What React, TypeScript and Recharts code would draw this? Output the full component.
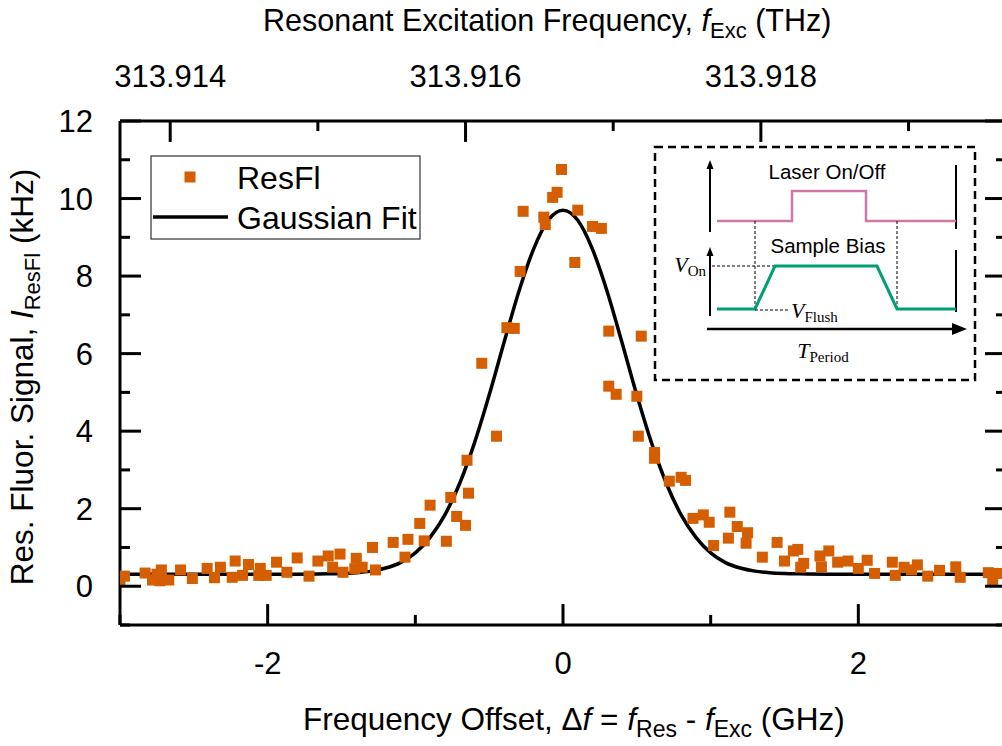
import React from 'react';
import { ComposedChart, Scatter, Line, XAxis, YAxis, ReferenceLine } from 'recharts';

// measured resonance fluorescence (offset in GHz, signal in kHz)
const resX = [
  -3.0, -2.97, -2.83, -2.78, -2.75, -2.72, -2.73, -2.67, -2.59, -2.51, -2.41, -2.36, -2.32, -2.22, -2.24,
  -2.17, -2.13, -2.05, -2.06, -2.01, -1.94, -1.87, -1.8, -1.72, -1.66, -1.59, -1.56, -1.51, -1.49, -1.4,
  -1.41, -1.36, -1.29, -1.27, -1.15, -1.05, -1.07, -0.94, -0.97, -0.9, -0.79, -0.76, -0.72, -0.66, -0.64,
  -0.65, -0.45, -0.55, -0.38, -0.33, -0.29, -0.27, -0.13, -0.12, -0.07, -0.04, -0.01, 0.1, 0.08, 0.2,
  0.26, 0.31, 0.53, 0.31, 0.36, 0.5, 0.51, 0.62, 0.62, 0.72, 0.8, 0.83, 0.88, 0.95, 0.99,
  1.02, 1.12, 1.13, 1.18, 1.25, 1.24, 1.35, 1.45, 1.5, 1.56, 1.59, 1.61, 1.63, 1.74, 1.8,
  1.75, 1.86, 1.93, 2.0, 2.06, 2.11, 2.23, 2.25, 2.31, 2.36, 2.4, 2.47, 2.55, 2.66, 2.69,
  2.88, 2.91, 2.94,
];
const resY = [
  0.13, 0.26, 0.34, 0.16, 0.31, 0.42, 0.14, 0.16, 0.42, 0.2, 0.46, 0.22, 0.49, 0.65, 0.23,
  0.28, 0.56, 0.46, 0.28, 0.28, 0.62, 0.36, 0.73, 0.26, 0.65, 0.78, 0.49, 0.83, 0.36, 0.72,
  0.45, 0.49, 1.0, 0.42, 1.13, 1.21, 0.75, 1.17, 1.62, 2.09, 1.16, 2.29, 1.8, 1.57, 2.4,
  3.25, 3.87, 5.75, 6.67, 6.65, 8.12, 9.67, 9.52, 9.33, 10.03, 10.16, 10.75, 9.7, 8.35, 9.28,
  9.23, 6.58, 6.45, 5.16, 4.95, 4.9, 3.87, 3.45, 3.3, 2.71, 2.81, 2.73, 1.75, 1.84, 1.65,
  1.05, 1.24, 1.91, 1.54, 1.38, 1.11, 0.75, 1.13, 0.65, 0.91, 0.95, 0.49, 0.59, 0.78, 0.91,
  0.5, 0.62, 0.65, 0.46, 0.67, 0.33, 0.62, 0.28, 0.49, 0.42, 0.55, 0.26, 0.41, 0.5, 0.23,
  0.35, 0.14, 0.33,
];

// gaussian fit curve
const fitX = [
  -3, -2.5, -2, -1.8, -1.6, -1.5, -1.4, -1.3, -1.2, -1.1, -1.0, -0.9, -0.8, -0.7, -0.6, -0.5, -0.4, -0.3, -0.2, -0.1,
  0, 0.1, 0.2, 0.3, 0.4, 0.5, 0.6, 0.7, 0.8, 0.9, 1.0, 1.1, 1.2, 1.3, 1.4, 1.5, 1.6, 1.8, 2, 2.5, 3,
];
const fitY = [
  0.31, 0.31, 0.31, 0.31, 0.32, 0.33, 0.35, 0.39, 0.47, 0.61, 0.86, 1.26, 1.84, 2.65, 3.69, 4.93, 6.28, 7.59, 8.69, 9.44,
  9.7, 9.44, 8.69, 7.59, 6.28, 4.93, 3.69, 2.65, 1.84, 1.26, 0.86, 0.61, 0.47, 0.39, 0.35, 0.33, 0.32, 0.31, 0.31, 0.31, 0.31,
];

const xTicks = [-3, -2, -1, 0, 1, 2, 3];
const yTicks = [-1, 0, 1, 2, 3, 4, 5, 6, 7, 8, 9, 10, 11, 12];
const yDomain = [-1, 12];
// top axis: excitation frequency in THz
const topTicks = [313.914, 313.915, 313.916, 313.917, 313.918, 313.919];
const topDomain = [313.91366, 313.91966];

const resData = resX.map((x, i) => ({ x, y: resY[i] }));
const fitData = fitX.map((x, i) => ({ x, y: fitY[i] }));
// invisible anchor so the top axis gets a scale
const topAnchor = topDomain.map((f) => ({ f, y: 0 }));

const FONT = '"Liberation Sans", Arial, sans-serif';
const SERIF = '"Liberation Serif", "DejaVu Serif", serif';
const ORANGE = '#d55e00';
const TICK_FS = 31;
// inward tick lengths in y units (about 21px and 10px)
const MAJOR_LEN = 0.54;
const MINOR_LEN = 0.26;

const BottomTick = ({ x, y, payload }: any) => {
  const v = payload.value;
  if (v % 2 !== 0 || Math.abs(v) >= 3) return <g />;
  return (
    <text x={x} y={y + 49} textAnchor="middle" fontSize={TICK_FS} fontFamily={FONT} fill="#000">
      {String(v)}
    </text>
  );
};

const TopTick = ({ x, y, payload }: any) => {
  const v = payload.value;
  if (Math.round(v * 1000) % 2 !== 0) return <g />;
  return (
    <text x={x} y={y - 34} textAnchor="middle" fontSize={TICK_FS} fontFamily={FONT} fill="#000">
      {v.toFixed(3)}
    </text>
  );
};

const LeftTick = ({ x, y, payload }: any) => {
  const v = payload.value;
  const major = v % 2 === 0;
  return (
    <g>
      <rect x={x} y={y - 1.5} width={major ? 21 : 10} height={3} fill="#000" />
      {major && (
        <text x={x - 27} y={y + 11} textAnchor="end" fontSize={TICK_FS} fontFamily={FONT} fill="#000">
          {String(v)}
        </text>
      )}
    </g>
  );
};

const RightTick = ({ x, y, payload }: any) => {
  const len = payload.value % 2 === 0 ? 21 : 10;
  return <rect x={x - len} y={y - 1.5} width={len} height={3} fill="#000" />;
};

const Square = (props: any) => {
  const { cx, cy } = props;
  if (cx == null || cy == null) return null;
  return <rect x={cx - 5.5} y={cy - 5.5} width={11} height={11} fill={ORANGE} />;
};

const Nothing = () => <g />;

function Overlay() {
  return (
    <svg width={1002} height={746} style={{ position: 'absolute', left: 0, top: 0, pointerEvents: 'none' }}>
      {/* titles */}
      <text x={263} y={31} fontSize={30.5} fontFamily={FONT} fill="#000">
        Resonant Excitation Frequency, <tspan fontStyle="italic">f</tspan>
        <tspan fontSize={22} dy={7}>Exc</tspan>
        <tspan dy={-7}> (THz)</tspan>
      </text>
      <text x={303} y={730} fontSize={31.5} fontFamily={FONT} fill="#000">
        Frequency Offset, Δ<tspan fontStyle="italic">f</tspan> = <tspan fontStyle="italic">f</tspan>
        <tspan fontSize={23} dy={7}>Res</tspan>
        <tspan dy={-7}> - </tspan>
        <tspan fontStyle="italic">f</tspan>
        <tspan fontSize={23} dy={7}>Exc</tspan>
        <tspan dy={-7}> (GHz)</tspan>
      </text>
      <text
        x={33}
        y={377}
        transform="rotate(-90 33 377)"
        textAnchor="middle"
        fontSize={31.5}
        fontFamily={FONT}
        fill="#000"
      >
        Res. Fluor. Signal, <tspan fontStyle="italic">I</tspan>
        <tspan fontSize={22} dy={7}>ResFl</tspan>
        <tspan dy={-7}> (kHz)</tspan>
      </text>

      {/* legend */}
      <rect x={151} y={156} width={269} height={83} fill="#fff" stroke="#333" strokeWidth={1.2} />
      <rect x={184.5} y={171.5} width={11} height={11} fill={ORANGE} />
      <text x={237} y={188.5} fontSize={32} fontFamily={FONT} fill="#000">ResFl</text>
      <line x1={153} x2={228} y1={217} y2={217} stroke="#000" strokeWidth={3.5} />
      <text x={237} y={228.5} fontSize={32} fontFamily={FONT} fill="#000">Gaussian Fit</text>

      {/* inset: timing scheme */}
      <rect x={655} y={147} width={320} height={233} fill="#fff" stroke="#000" strokeWidth={2.5} strokeDasharray="8 5" />
      <line x1={710} x2={710} y1={232} y2={166} stroke="#000" strokeWidth={2} />
      <polygon points="710,160 706.5,169 713.5,169" fill="#000" />
      <line x1={956} x2={956} y1={165} y2={229} stroke="#000" strokeWidth={2} />
      <polyline
        points="717,221 792,221 792,191 866,191 866,221 956,221"
        fill="none"
        stroke="#cc79a7"
        strokeWidth={2.5}
      />
      <text x={827} y={179} textAnchor="middle" fontSize={20.5} fontFamily={FONT} fill="#000">Laser On/Off</text>
      <line x1={755} x2={755} y1={221} y2={309} stroke="#000" strokeWidth={1} strokeDasharray="3 2" />
      <line x1={897} x2={897} y1={221} y2={309} stroke="#000" strokeWidth={1} strokeDasharray="3 2" />
      <line x1={710} x2={710} y1={316} y2={254} stroke="#000" strokeWidth={2} />
      <polygon points="710,247 706.5,256 713.5,256" fill="#000" />
      <line x1={956} x2={956} y1={250} y2={312} stroke="#000" strokeWidth={2} />
      <text x={828} y={253} textAnchor="middle" fontSize={20.5} fontFamily={FONT} fill="#000">Sample Bias</text>
      <line x1={712} x2={775} y1={266} y2={266} stroke="#000" strokeWidth={1} strokeDasharray="3 2" />
      <text x={706} y={272} textAnchor="end" fontSize={22} fontFamily={SERIF} fill="#000">
        <tspan fontStyle="italic">V</tspan>
        <tspan fontSize={15} dy={4}>On</tspan>
      </text>
      <polyline
        points="717,309 755,309 775,266 877,266 897,309 956,309"
        fill="none"
        stroke="#009e73"
        strokeWidth={3}
      />
      <line x1={755} x2={788} y1={310} y2={310} stroke="#000" strokeWidth={1} strokeDasharray="3 2" />
      <text x={791} y={318} fontSize={22} fontFamily={SERIF} fill="#000">
        <tspan fontStyle="italic">V</tspan>
        <tspan fontSize={15} dy={4}>Flush</tspan>
      </text>
      <line x1={707} x2={954} y1={329} y2={329} stroke="#000" strokeWidth={2.5} />
      <polygon points="967,329 952,323 952,335" fill="#000" />
      <text x={823} y={358} textAnchor="middle" fontSize={22} fontFamily={SERIF} fill="#000">
        <tspan fontStyle="italic">T</tspan>
        <tspan fontSize={15} dy={4}>Period</tspan>
      </text>
    </svg>
  );
}

export default function App() {
  return (
    <div
      style={{
        position: 'fixed',
        left: 0,
        top: 0,
        width: 1002,
        height: 746,
        overflow: 'hidden',
        background: '#fff',
      }}
    >
      <ComposedChart width={1040} height={746} margin={{ top: 120, right: 33, bottom: 120, left: 119 }}>
        <XAxis
          xAxisId="bottom"
          dataKey="x"
          type="number"
          domain={[-3, 3]}
          ticks={xTicks}
          height={1}
          tickSize={0}
          tickMargin={0}
          tickLine={false}
          tick={<BottomTick />}
          axisLine={{ stroke: '#000', strokeWidth: 3 }}
          allowDataOverflow
          interval={0}
        />
        <XAxis
          xAxisId="top"
          orientation="top"
          dataKey="f"
          type="number"
          domain={topDomain}
          ticks={topTicks}
          height={1}
          tickSize={0}
          tickMargin={0}
          tickLine={false}
          tick={<TopTick />}
          axisLine={{ stroke: '#000', strokeWidth: 3 }}
          allowDataOverflow
          interval={0}
        />
        <YAxis
          yAxisId="left"
          type="number"
          domain={yDomain}
          ticks={yTicks}
          width={1}
          tickSize={0}
          tickMargin={0}
          tickLine={false}
          tick={<LeftTick />}
          axisLine={{ stroke: '#000', strokeWidth: 3 }}
          allowDataOverflow
          interval={0}
        />
        <YAxis
          yAxisId="right"
          orientation="right"
          type="number"
          domain={yDomain}
          ticks={yTicks}
          width={1}
          tickSize={0}
          tickMargin={0}
          tickLine={false}
          tick={<RightTick />}
          axisLine={{ stroke: '#000', strokeWidth: 3 }}
          allowDataOverflow
          interval={0}
        />
        {xTicks.map((t) => (
          <ReferenceLine
            key={`bt${t}`}
            xAxisId="bottom"
            yAxisId="left"
            segment={[
              { x: t, y: yDomain[0] },
              { x: t, y: yDomain[0] + (t % 2 === 0 ? MAJOR_LEN : MINOR_LEN) },
            ]}
            stroke="#000"
            strokeWidth={3}
            ifOverflow="visible"
          />
        ))}
        {topTicks.map((f) => (
          <ReferenceLine
            key={`tt${f}`}
            xAxisId="top"
            yAxisId="left"
            segment={[
              { x: f, y: yDomain[1] },
              { x: f, y: yDomain[1] - (Math.round(f * 1000) % 2 === 0 ? MAJOR_LEN : MINOR_LEN) },
            ]}
            stroke="#000"
            strokeWidth={3}
            ifOverflow="visible"
          />
        ))}
        <Scatter
          xAxisId="top"
          yAxisId="left"
          data={topAnchor}
          dataKey="y"
          shape={<Nothing />}
          isAnimationActive={false}
        />
        <Line
          xAxisId="bottom"
          yAxisId="left"
          data={fitData}
          dataKey="y"
          type="monotone"
          stroke="#000"
          strokeWidth={3.5}
          dot={false}
          activeDot={false}
          isAnimationActive={false}
        />
        <Scatter
          xAxisId="bottom"
          yAxisId="left"
          data={resData}
          dataKey="y"
          shape={<Square />}
          isAnimationActive={false}
        />
      </ComposedChart>
      <Overlay />
    </div>
  );
}
